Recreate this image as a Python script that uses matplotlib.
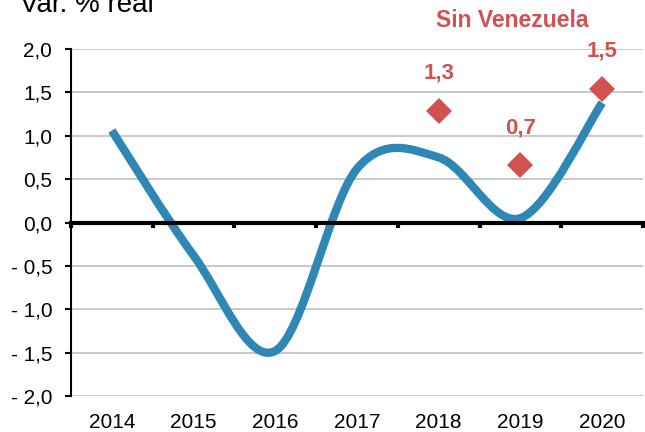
"""GDP growth line (smoothed) with 'Sin Venezuela' markers."""

import matplotlib
matplotlib.use("Agg")
import matplotlib.pyplot as plt
from matplotlib.path import Path
from matplotlib.patches import PathPatch
from matplotlib.ticker import FuncFormatter, MultipleLocator

YEARS = ["2014", "2015", "2016", "2017", "2018", "2019", "2020"]
GROWTH = [1.06, -0.38, -1.48, 0.62, 0.75, 0.05, 1.38]

EX_VEN_YEARS = ["2018", "2019", "2020"]
EX_VEN = [1.29, 0.66, 1.54]
EX_VEN_LABELS = ["1,3", "0,7", "1,5"]

BLUE = "#2E87B5"
RED = "#D05252"
GRID = "#C0C0C0"

plt.rcParams["font.family"] = ["Liberation Sans", "DejaVu Sans"]


def smooth_path(xs, ys):
    # Catmull-Rom style bezier, like a spreadsheet "smoothed line"
    pts = list(zip(xs, ys))
    n = len(pts)
    verts = [pts[0]]
    codes = [Path.MOVETO]
    for i in range(n - 1):
        p0 = pts[max(i - 1, 0)]
        p1 = pts[i]
        p2 = pts[i + 1]
        p3 = pts[min(i + 2, n - 1)]
        c1 = (p1[0] + (p2[0] - p0[0]) / 6, p1[1] + (p2[1] - p0[1]) / 6)
        c2 = (p2[0] - (p3[0] - p1[0]) / 6, p2[1] - (p3[1] - p1[1]) / 6)
        verts += [c1, c2, p2]
        codes += [Path.CURVE4] * 3
    return Path(verts, codes)


def fmt_y(v, _pos):
    s = f"{abs(v):.1f}".replace(".", ",")
    return f"- {s}" if v < -1e-9 else s


fig = plt.figure(figsize=(6.45, 4.32), dpi=100)
ax = fig.add_axes([0.110, 0.0833, 0.887, 0.8033])

x = list(range(len(YEARS)))
patch = PathPatch(smooth_path(x, GROWTH), facecolor="none", edgecolor=BLUE,
                  linewidth=6, capstyle="butt", zorder=2)
ax.add_patch(patch)

xe = [YEARS.index(y) for y in EX_VEN_YEARS]
ax.plot(xe, EX_VEN, linestyle="none", marker="D", markersize=13,
        color=RED, markeredgewidth=0, zorder=4)
for xi, v, lab in zip(xe, EX_VEN, EX_VEN_LABELS):
    ax.annotate(lab, (xi, v), xytext=(0, 27), textcoords="offset points",
                ha="center", va="center", color=RED, fontsize=16,
                fontweight="bold")

ax.text(4.9, 2.33, "Sin Venezuela", ha="center", va="center", color=RED,
        fontsize=16.5, fontweight="bold", clip_on=False)

ax.set_xlim(-0.5, len(YEARS) - 0.5)
ax.set_ylim(-2.0, 2.0)
ax.yaxis.set_major_locator(MultipleLocator(0.5))
ax.yaxis.set_major_formatter(FuncFormatter(fmt_y))
ax.grid(axis="y", color=GRID, linewidth=1.2, zorder=0)
ax.set_axisbelow(True)

ax.set_xticks(x)
ax.set_xticklabels(YEARS)
ax.tick_params(axis="x", length=0, pad=12, labelsize=15)
ax.tick_params(axis="y", direction="out", length=4.5, width=1.5, pad=9,
               labelsize=15, colors="black")

for side in ("top", "right", "bottom"):
    ax.spines[side].set_visible(False)
ax.spines["left"].set_linewidth(1.5)

# zero axis with category boundary ticks
secax = ax.secondary_xaxis(0.5)
secax.set_alignment("bottom")
secax.set_xticks([i - 0.5 for i in range(len(YEARS) + 1)])
secax.set_xticklabels([])
secax.tick_params(axis="x", direction="out", length=3.5, width=3)
for sp in secax.spines.values():
    sp.set_linewidth(3)
secax.set_zorder(3)

fig.text(0.031, 0.972, "Var. % real", ha="left", va="baseline", fontsize=20)

fig.savefig("out.png", dpi=100)
